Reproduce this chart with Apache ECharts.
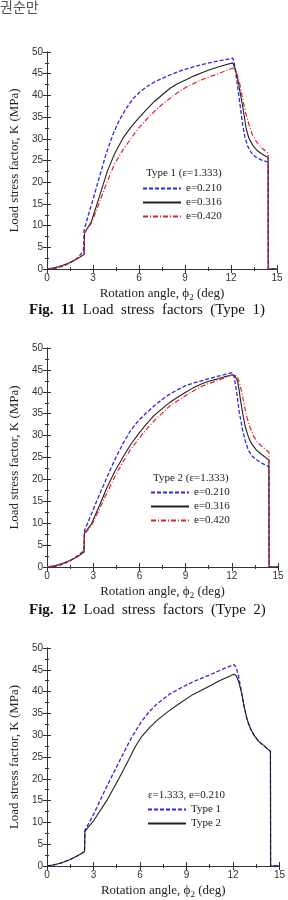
<!DOCTYPE html>
<html>
<head>
<meta charset="utf-8">
<script src="https://cdn.jsdelivr.net/npm/echarts@6/dist/echarts.min.js"></script>
<style>
  html, body { margin: 0; padding: 0; background: #fff; }
  #main { width: 288px; height: 900px; }
</style>
</head>
<body>
<div id="main"></div>
<script>
// values: [rotation angle deg, load stress factor MPa]
const xTicks = [0, 3, 6, 9, 12, 15];
const yTicks = [0, 5, 10, 15, 20, 25, 30, 35, 40, 45, 50];

// Fig. 11, Type 1
const t1e210 = [[0,0],[0.5,0.15],[1,0.6],[1.5,1.4],[2,2.6],[2.2,3.4],[2.38,4.4],[2.42,9.0],[2.7,12.5],[3.0,16],[3.4,21],[3.85,26.5],[4.3,31],[4.7,34.2],[5.2,37.2],[5.6,39.2],[6.0,40.6],[6.5,42],[7.0,43.1],[7.5,43.9],[8.0,44.7],[8.5,45.4],[9.0,46],[9.5,46.5],[10.1,47.1],[10.6,47.5],[11.1,47.9],[11.6,48.2],[12.1,48.6],[12.2,47.8],[12.3,45.5],[12.45,41.5],[12.6,37.5],[12.75,33.5],[12.9,30.5],[13.1,28.2],[13.3,26.9],[13.6,25.8],[14.0,25.1],[14.42,24.6],[14.43,0],[15,0]];
const t1e316 = [[0,0],[0.5,0.3],[1,0.8],[1.5,1.5],[2,2.4],[2.42,3.4],[2.45,8.3],[2.9,11],[3.4,16.5],[3.93,22.5],[4.4,26.5],[4.96,30.2],[5.5,32.8],[5.99,34.8],[6.5,36.8],[7.0,38.6],[7.5,40.1],[8.05,41.7],[8.5,42.7],[9.07,43.6],[9.6,44.5],[10.1,45.2],[10.6,45.9],[11.1,46.5],[11.6,47.0],[12.12,47.5],[12.3,45.8],[12.47,43.2],[12.62,40.2],[12.78,37.1],[12.98,32.5],[13.15,30.3],[13.4,28.6],[13.7,27.3],[14.01,26.5],[14.42,25.7],[14.43,0],[15,0]];
const t1e420 = [[0,0],[0.5,0.3],[1,0.8],[1.5,1.5],[2,2.4],[2.42,3.4],[2.45,8.3],[2.9,10.6],[3.4,15.2],[3.93,20.2],[4.4,24.2],[4.96,27.5],[5.5,30.2],[5.99,32.5],[6.5,34.5],[7.0,36.3],[7.5,37.9],[8.05,39.4],[8.5,40.6],[9.07,41.9],[9.6,42.8],[10.1,43.6],[10.6,44.3],[11.1,44.9],[11.6,45.6],[12.12,46.3],[12.25,45.8],[12.41,44.8],[12.55,43.0],[12.67,40.9],[12.82,38.2],[12.98,35.6],[13.2,33],[13.4,30.9],[13.7,29.1],[14.01,27.9],[14.42,26.7],[14.43,0],[15,0]];

// Fig. 12, Type 2
const t2e210 = [[0,0],[0.5,0.15],[1,0.6],[1.5,1.4],[2,2.6],[2.4,3.7],[2.43,8.3],[2.88,12.1],[3.4,16.5],[3.9,20.5],[4.4,24.5],[4.92,28.1],[5.4,31],[5.94,33.4],[6.45,35.2],[6.96,36.8],[7.5,38.3],[7.98,39.5],[8.5,40.5],[9.0,41.4],[9.5,42],[10.02,42.5],[10.5,43],[11.04,43.5],[11.5,43.9],[12.02,44.4],[12.15,43.5],[12.27,41],[12.37,38.5],[12.47,35.7],[12.6,33.2],[12.71,31.1],[12.9,28.5],[13.08,26.6],[13.35,25.2],[13.69,24.3],[14.0,23.6],[14.41,22.9],[14.42,0],[15,0]];
const t2e316 = [[0,0],[0.5,0.3],[1,0.8],[1.5,1.5],[2,2.4],[2.4,3.4],[2.43,7.7],[2.88,9.8],[3.4,14],[3.9,18.2],[4.4,21.8],[4.92,25.0],[5.4,27.8],[5.94,30.4],[6.45,32.6],[6.96,34.6],[7.5,36.2],[7.98,37.6],[8.5,38.8],[9.0,39.9],[9.5,40.9],[10.02,41.8],[10.5,42.4],[11.04,42.9],[11.5,43.4],[12.06,43.9],[12.22,43.5],[12.37,42.5],[12.47,40.5],[12.57,38],[12.72,34.8],[12.88,31.9],[13.08,29.7],[13.29,28.1],[13.6,26.7],[13.9,25.8],[14.41,24.4],[14.42,0],[15,0]];
const t2e420 = [[0,0],[0.5,0.3],[1,0.8],[1.5,1.5],[2,2.4],[2.4,3.4],[2.43,7.5],[2.88,9.4],[3.4,13.2],[3.9,17],[4.4,20.6],[4.92,23.9],[5.4,26.7],[5.94,29.2],[6.45,31.4],[6.96,33.4],[7.5,35.2],[7.98,36.8],[8.5,38],[9.0,39.1],[9.5,40.2],[10.02,41.2],[10.5,41.9],[11.04,42.5],[11.5,43.2],[12.06,43.9],[12.22,43.8],[12.37,43.3],[12.52,41.8],[12.67,39.5],[12.82,36.8],[12.98,34.2],[13.18,31.9],[13.39,30.0],[13.65,28.6],[13.9,27.7],[14.41,26.2],[14.42,0],[15,0]];

// third figure, e = 0.210
const cType1 = [[0,0],[0.5,0.3],[1,0.8],[1.5,1.5],[2,2.4],[2.42,3.3],[2.45,8.2],[3.0,11.8],[3.66,16.8],[4.17,20.5],[4.88,25.5],[5.46,29.5],[6.07,33.0],[6.6,35.4],[7.1,37.2],[7.9,39.4],[8.72,41.0],[9.4,42.2],[10.14,43.3],[10.8,44.3],[11.5,45.4],[12.06,46.2],[12.2,45.6],[12.37,43.4],[12.57,39.5],[12.72,36.6],[12.87,34.2],[13.02,32.5],[13.17,31.2],[13.4,29.8],[13.68,28.5],[14.0,27.6],[14.25,26.8],[14.42,26.3],[14.43,0],[15,0]];
const cType2 = [[0,0],[0.5,0.3],[1,0.8],[1.5,1.5],[2,2.4],[2.42,3.3],[2.45,8.0],[3.05,10.6],[3.87,15.1],[4.6,19.8],[5.28,24.4],[5.7,27.4],[6.09,29.6],[6.6,31.7],[7.1,33.4],[7.8,35.4],[8.52,37.2],[9.4,39.3],[10.34,41.0],[11.2,42.6],[12.06,44.0],[12.2,43.7],[12.37,42.3],[12.57,39.5],[12.72,36.6],[12.87,34.2],[13.02,32.5],[13.17,31.2],[13.4,29.8],[13.68,28.5],[14.0,27.6],[14.25,26.8],[14.42,26.3],[14.43,0],[15,0]];

const chart = echarts.init(document.getElementById('main'));

const serif = '"Liberation Serif", "Times New Roman", serif';
const sans = '"Liberation Sans", Arial, sans-serif';
const BLUE = '#2a2ae0', BLACK = '#222', RED = '#e52222';
const styles = {
  blue: { color: BLUE, width: 1.3, type: [4, 2] },
  black: { color: BLACK, width: 1.1, type: 'solid' },
  red: { color: RED, width: 1.2, type: [5, 2, 1, 2] }
};

const grids = [
  { left: 33, top: 52, width: 244, height: 217 },
  { left: 33, top: 348, width: 245, height: 219 },
  { left: 33, top: 648, width: 247, height: 219 }
];

const xAxes = [], yAxes = [];
grids.forEach((g, i) => {
  const tick = { show: true, inside: true, length: 4, lineStyle: { color: '#333' } };
  const minor = { show: true, splitNumber: 2, length: 2, lineStyle: { color: '#333' } };
  const line = { show: true, lineStyle: { color: '#333', width: 1 } };
  xAxes.push({
    gridIndex: i, type: 'value', min: xTicks[0], max: xTicks[xTicks.length - 1], interval: 3,
    position: 'bottom', axisLine: line, axisTick: tick, minorTick: minor, splitLine: { show: false },
    axisLabel: { fontFamily: sans, fontSize: 10, color: '#333', margin: 4 },
    name: 'Rotation angle, {p|ϕ}{s|2} (deg)', nameLocation: 'middle', nameGap: 17,
    nameTextStyle: { fontFamily: serif, fontSize: 13, color: '#222',
      rich: { p: { fontFamily: serif, fontSize: 13, color: '#222' },
              s: { fontFamily: serif, fontSize: 9, color: '#222', padding: [7, 0, 0, 0] } } }
  });
  xAxes.push({
    gridIndex: i, type: 'value', min: 0, max: 15, interval: 3, position: 'top',
    axisLine: line, axisTick: tick, minorTick: minor, splitLine: { show: false }, axisLabel: { show: false }
  });
  yAxes.push({
    gridIndex: i, type: 'value', min: yTicks[0], max: yTicks[yTicks.length - 1], interval: 5,
    position: 'left', axisLine: line, axisTick: tick, minorTick: minor, splitLine: { show: false },
    axisLabel: { fontFamily: sans, fontSize: 10, color: '#333', margin: 4 },
    name: 'Load stress factor, K (MPa)', nameLocation: 'middle', nameGap: 21,
    nameTextStyle: { fontFamily: serif, fontSize: 13, color: '#222' }
  });
  yAxes.push({
    gridIndex: i, type: 'value', min: 0, max: 50, interval: 5, position: 'right',
    axisLine: line, axisTick: tick, minorTick: minor, splitLine: { show: false }, axisLabel: { show: false }
  });
});

function line(name, data, idx, st) {
  return {
    type: 'line', name: name, data: data, xAxisIndex: idx * 2, yAxisIndex: idx * 2,
    symbol: 'none', smooth: false, lineStyle: st, itemStyle: { color: st.color },
    emphasis: { disabled: true }
  };
}

const series = [
  line('e=0.210', t1e210, 0, styles.blue),
  line('e=0.316', t1e316, 0, styles.black),
  line('e=0.420', t1e420, 0, styles.red),
  line('e=0.210', t2e210, 1, styles.blue),
  line('e=0.316', t2e316, 1, styles.black),
  line('e=0.420', t2e420, 1, styles.red),
  line('Type 1', cType1, 2, styles.blue),
  line('Type 2', cType2, 2, styles.black)
];

const legendBase = {
  orient: 'vertical', itemWidth: 38, itemHeight: 10, itemGap: 3, padding: 0,
  itemStyle: { opacity: 0 },
  textStyle: { fontFamily: serif, fontSize: 11, color: '#222' }
};

const legendTitle = (text, x, y) => ({
  type: 'text', left: x, top: y,
  style: { text: text, font: '11px ' + serif, fill: '#222' }
});

const caption = (num, type, y) => ({
  type: 'text', left: 29, top: y,
  style: {
    text: '{b|Fig.  ' + num + '}  Load  stress  factors  (Type  ' + type + ')',
    font: '15px ' + serif, fill: '#111',
    rich: { b: { fontFamily: serif, fontSize: 15, fontWeight: 'bold', fill: '#111' } }
  }
});

chart.setOption({
  animation: false,
  grid: grids.map(g => Object.assign({ containLabel: false }, g)),
  xAxis: xAxes,
  yAxis: yAxes,
  legend: [
    Object.assign({ left: 142, top: 183, data: ['e=0.210', 'e=0.316', 'e=0.420'] }, legendBase),
    Object.assign({ left: 150, top: 487, data: ['e=0.210', 'e=0.316', 'e=0.420'] }, legendBase),
    Object.assign({ left: 147, top: 804, data: ['Type 1', 'Type 2'] }, legendBase)
  ],
  graphic: [
    { type: 'text', left: 0, top: 0, style: { text: '권순만', font: '14px "Noto Sans CJK KR"', fill: '#555' } },
    legendTitle('Type 1 (ε=1.333)', 146, 168),
    legendTitle('Type 2 (ε=1.333)', 153, 473),
    legendTitle('ε=1.333, e=0.210', 148, 790),
    caption(11, 1, 303),
    caption(12, 2, 603)
  ],
  series: series
});
</script>
</body>
</html>
